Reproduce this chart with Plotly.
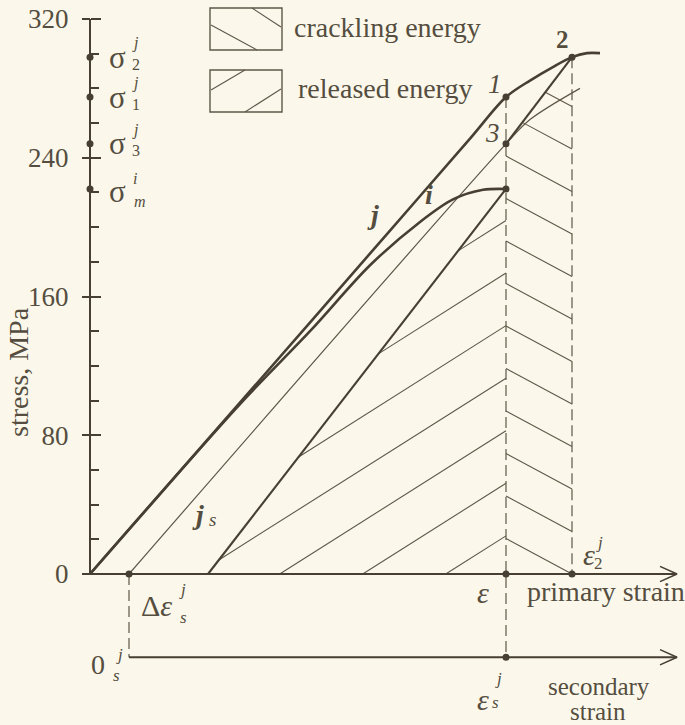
import numpy as np
import plotly.graph_objects as go

# ---- data (strain in arbitrary units, stress in MPa) ----
strain_j = [0.0, 1.70, 3.00, 3.80, 4.16, 4.40, 4.62, 4.82, 4.97, 5.10]
stress_j = [0.0, 112.0, 198.0, 251.0, 275.0, 284.5, 292.0, 298.0, 300.3, 300.3]

strain_i = [0.0, 1.50, 2.20, 2.80, 3.30, 3.63, 3.93, 4.16]
stress_i = [0.0, 98.0, 140.0, 178.0, 203.0, 216.0, 221.5, 222.0]

strain_js = [0.39, 4.16, 4.40, 4.90]
stress_js = [0.0, 248.0, 262.0, 280.0]

eps = 4.16          # current primary strain
eps2 = 4.82         # strain at point 2
d_eps_s = 0.39      # shift of the secondary origin
eps_res_i = 1.18    # residual strain after unloading curve i
sig1, sig2, sig3, sig_m = 275.0, 298.0, 248.0, 222.0
y_secondary = -48.0  # level of the secondary strain axis

y_ticks = [0, 80, 160, 240, 320]
y_minor = [v for v in range(20, 320, 20) if v not in y_ticks]

# ---- style ----
BG = "#FBF8EB"
INK = "#463F32"
THIN = "#5E5747"
TXT = "#554E40"
FONT = "Liberation Serif"

W, H = 685, 725
X0, X1 = -0.90, 5.95
Y0, Y1 = -87.06, 330.95

fig = go.Figure()


def line(x, y, width, color=INK, dash=None, shape="linear", yaxis="y"):
    fig.add_trace(go.Scatter(
        x=x, y=y, mode="lines", yaxis=yaxis, hoverinfo="skip", showlegend=False,
        line=dict(color=color, width=width, dash=dash, shape=shape, smoothing=0.9)))


# hatch families -------------------------------------------------------
# crackling energy: lines falling to the right between eps and eps2,
# bounded above by the unloading line 2-3
m_c, dc = -31.0, 24.5
hx, hy = [], []
slope23 = (sig2 - sig3) / (eps2 - eps)
k = 0
while True:
    v = k * dc                      # value of the hatch line at eps2
    # intersection with line 2-3
    xs = (v - m_c * eps2 - sig3 + slope23 * eps) / (slope23 - m_c)
    x_start = max(eps, xs)
    if eps2 - x_start < 0.06:
        break
    hx += [x_start, eps2, None]
    hy += [v + m_c * (x_start - eps2), v, None]
    k += 1

# released energy: lines rising to the right, between unloading line of i and eps
m_r, dr, a0 = 36.5, 30.3, 22.0
mC = sig_m / (eps - eps_res_i)
k = 0
while a0 + k * dr < sig_m:
    a = a0 + k * dr
    x0 = eps - a / m_r
    xi = (a - m_r * eps + mC * eps_res_i) / (mC - m_r)
    xs = max(x0, xi)
    hx += [xs, eps, None]
    hy += [a + m_r * (xs - eps), a, None]
    k += 1
line(hx, hy, 1.1, THIN)

# dashed guides
line([eps, eps], [sig1, y_secondary], 1.2, THIN, dash="11px,5px")
line([eps2, eps2], [sig2, 0], 1.2, THIN, dash="11px,5px")
line([d_eps_s, d_eps_s], [0, y_secondary], 1.2, THIN, dash="11px,5px")

# curves
line(strain_js, stress_js, 1.2, THIN, shape="spline")
line([eps_res_i, eps], [0, sig_m], 2.1)
line([eps, eps2], [sig3, sig2], 2.1)
line(strain_i, stress_i, 2.6, shape="spline")
line(strain_j, stress_j, 2.6, shape="spline")

# axes drawn as lines with open arrowheads
x_end = 5.87
ah_len, ah_w = 0.17, 4.4
line([0, 0], [0, 320], 2.0)
line([0, x_end], [0, 0], 2.0)
line([x_end - ah_len, x_end, x_end - ah_len], [ah_w, 0, -ah_w], 1.6)
line([d_eps_s, x_end], [y_secondary, y_secondary], 2.0)
line([x_end - ah_len, x_end, x_end - ah_len],
     [y_secondary + ah_w, y_secondary, y_secondary - ah_w], 1.6)

# points
fig.add_trace(go.Scatter(
    x=[eps, eps2, eps, eps, d_eps_s, eps, eps2, eps],
    y=[sig1, sig2, sig3, sig_m, 0, 0, 0, y_secondary],
    mode="markers", marker=dict(size=7, color=INK), hoverinfo="skip",
    showlegend=False, cliponaxis=False))
fig.add_trace(go.Scatter(
    x=[0, 0, 0, 0], y=[sig2, sig1, sig3, sig_m], yaxis="y2",
    mode="markers", marker=dict(size=7, color=INK), hoverinfo="skip",
    showlegend=False, cliponaxis=False))

# ---- text ----
ann = []


def data_text(text, x, y, dx, dy, size, yaxis="y"):
    ann.append(dict(text=text, x=x, y=y, xref="x", yref=yaxis, xshift=dx, yshift=dy,
                    showarrow=False, xanchor="center", yanchor="middle",
                    font=dict(family=FONT, size=size, color=TXT)))


def px_text(text, px, py, size, angle=0, anchor="center"):
    ann.append(dict(text=text, x=px / W, y=1 - py / H, xref="paper", yref="paper",
                    showarrow=False, xanchor=anchor, yanchor="middle", textangle=angle,
                    font=dict(family=FONT, size=size, color=TXT)))


# sigma markers on the stress axis
for sub, sup, val in (("2", "j", sig2), ("1", "j", sig1), ("3", "j", sig3), ("m", "i", sig_m)):
    if sub == "m":
        data_text("σ", 0, val, 27, -3, 31)
        data_text("<i>i</i>", 0, val, 45, 10, 16)
        data_text("<i>m</i>", 0, val, 50, -13, 16)
    else:
        data_text("σ", 0, val, 27, 0, 31)
        data_text("<i>" + sup + "</i>", 0, val, 45, 14, 16)
        data_text(sub, 0, val, 46, -7, 16)

# point labels
data_text("<i>1</i>", eps, sig1, -11, 13, 27)
data_text("<b>2</b>", eps2, sig2, -10, 18, 25)
data_text("<i>3</i>", eps, sig3, -14, 11, 27)
px_text("<b><i>j</i></b>", 373, 215, 28)
px_text("<b><i>i</i></b>", 429, 194, 28)
px_text("<b><i>j</i></b>", 198, 514, 28)
px_text("<i>s</i>", 213, 519, 19)

# strain labels
data_text("<i>ε</i>", eps, 0, -23, -18, 30)
data_text("<i>ε</i>", eps2, 0, 17, 20, 30)
data_text("<i>j</i>", eps2, 0, 27, 32, 17)
data_text("2", eps2, 0, 26, 11, 17)
data_text("Δ<i>ε</i>", d_eps_s, 0, 27, -31, 30)
data_text("<i>j</i>", d_eps_s, 0, 53, -15, 17)
data_text("<i>s</i>", d_eps_s, 0, 54, -43, 17)
data_text("0", d_eps_s, y_secondary, -31, -7, 28)
data_text("<i>j</i>", d_eps_s, y_secondary, -10, 3, 17)
data_text("<i>s</i>", d_eps_s, y_secondary, -13, -18, 17)
data_text("<i>ε</i>", eps, y_secondary, -23, -42, 30)
data_text("<i>j</i>", eps, y_secondary, -8, -21, 17)
data_text("<i>s</i>", eps, y_secondary, -11, -45, 17)

px_text("primary strain", 606, 591, 28)
px_text("secondary", 599, 686, 25)
px_text("strain", 598, 711, 25)
px_text("stress, MPa", 18, 372, 28, angle=-90)

# legend
px_text("crackling energy", 292, 28, 28, anchor="left")
px_text("released energy", 296, 88, 28, anchor="left")

shapes = []


def pbox(x0, y0, x1, y1):
    shapes.append(dict(type="rect", xref="paper", yref="paper",
                       x0=x0 / W, x1=x1 / W, y0=1 - y0 / H, y1=1 - y1 / H,
                       line=dict(color=THIN, width=1.4)))


def pseg(x0, y0, x1, y1):
    shapes.append(dict(type="line", xref="paper", yref="paper",
                       x0=x0 / W, x1=x1 / W, y0=1 - y0 / H, y1=1 - y1 / H,
                       line=dict(color=THIN, width=1.1)))


pbox(210, 8, 282, 50)
pseg(211, 25, 257, 50)
pseg(252, 8, 281, 27)
pbox(210, 70, 282, 112)
pseg(211, 90, 245, 70)
pseg(245, 112, 281, 89)

axis_pos = (0 - X0) / (X1 - X0)
fig.update_layout(
    width=W, height=H, margin=dict(l=0, r=0, t=0, b=0, autoexpand=False),
    paper_bgcolor=BG, plot_bgcolor=BG, showlegend=False,
    annotations=ann, shapes=shapes,
    xaxis=dict(range=[X0, X1], visible=False, domain=[0, 1]),
    yaxis=dict(range=[Y0, Y1], anchor="free", position=axis_pos, showgrid=False,
               zeroline=False, showline=False, tickmode="array", tickvals=y_ticks,
               ticks="outside", ticklen=8, tickwidth=2, tickcolor=INK,
               ticklabelstandoff=8,
               tickfont=dict(family=FONT, size=27, color=TXT)),
    yaxis2=dict(range=[Y0, Y1], anchor="free", position=axis_pos, overlaying="y",
                showgrid=False, zeroline=False, showline=False, showticklabels=False,
                tickmode="array", tickvals=y_ticks, ticks="inside", ticklen=10,
                tickwidth=2, tickcolor=INK,
                minor=dict(tickmode="array", tickvals=y_minor, ticks="inside",
                           ticklen=8, tickwidth=1.5, tickcolor=INK)),
)

fig.write_html("out.html")
